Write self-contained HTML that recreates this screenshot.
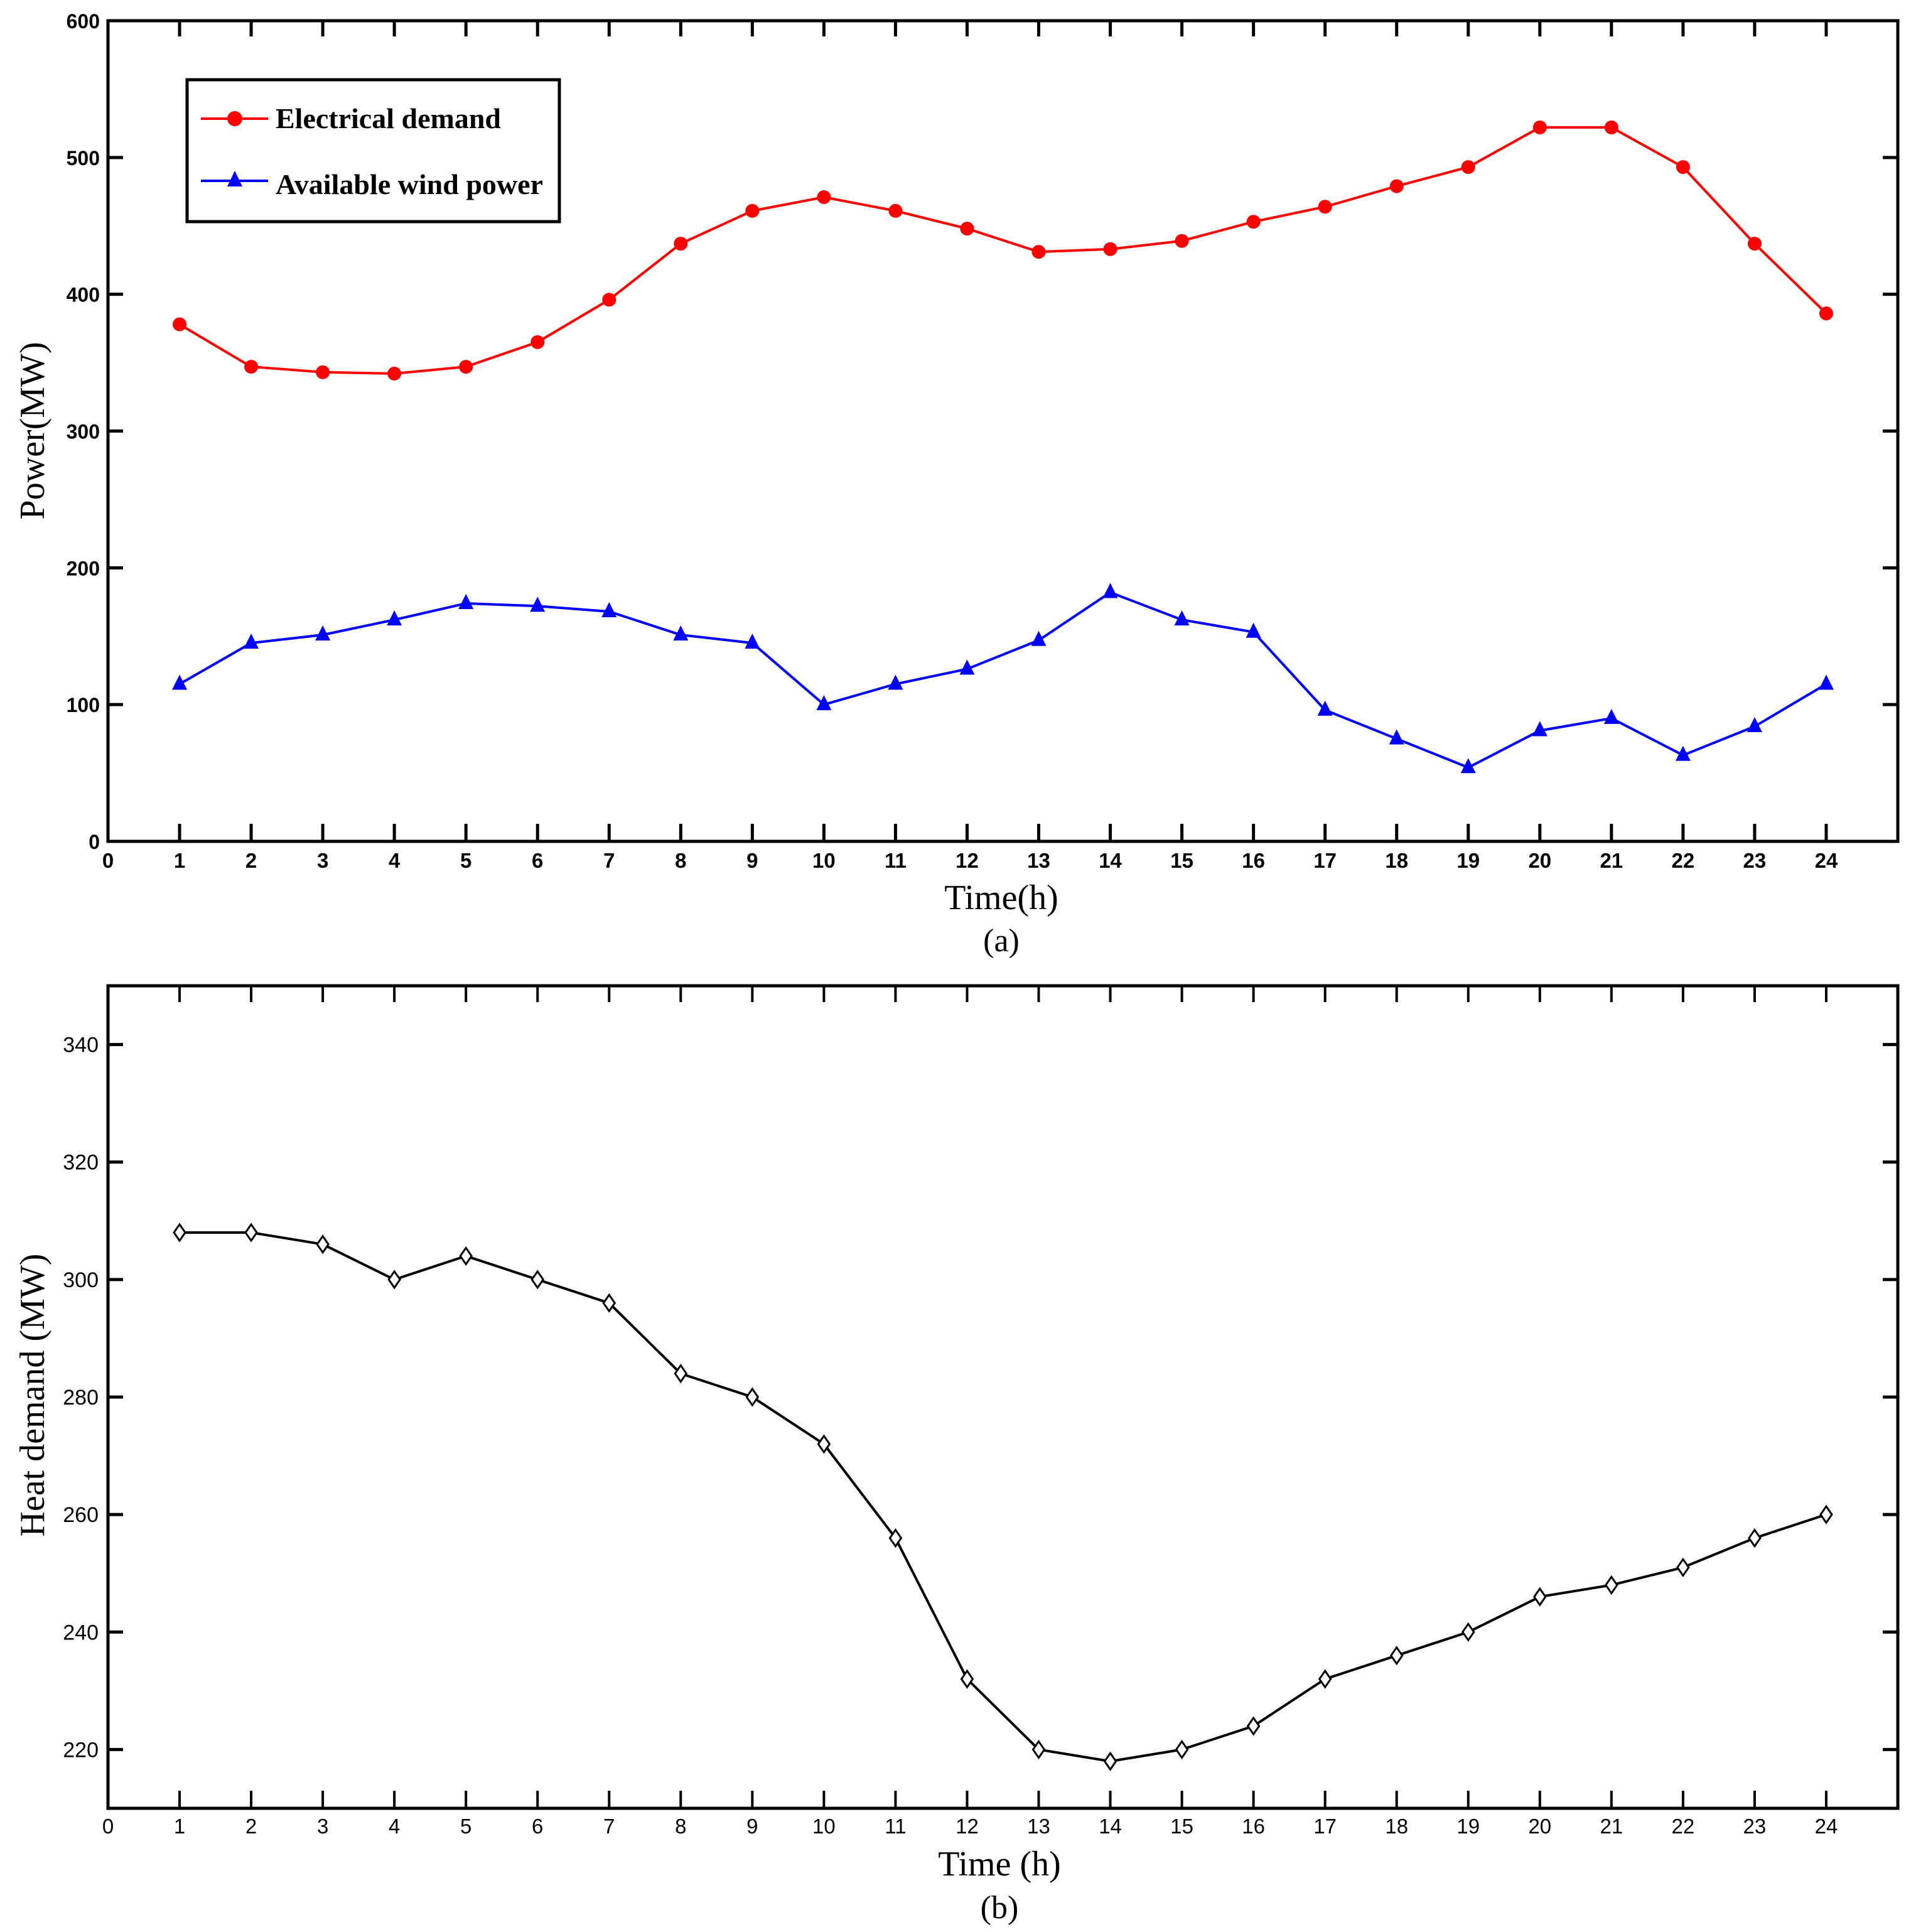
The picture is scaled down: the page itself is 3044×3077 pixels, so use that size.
<!DOCTYPE html>
<html><head><meta charset="utf-8"><style>
html,body{margin:0;padding:0;background:#fff;}
svg{display:block;}
</style></head><body>
<svg id="chart" xmlns="http://www.w3.org/2000/svg" width="3044" height="3077" viewBox="0 0 3044 3077">
<rect width="3044" height="3077" fill="#fff"/>
<g id="pa"></g>
<g id="pb"></g>
</svg>
<script>
const hours = [1,2,3,4,5,6,7,8,9,10,11,12,13,14,15,16,17,18,19,20,21,22,23,24];
const electricalDemand = [378,347,343,342,347,365,396,437,461,471,461,448,431,433,439,453,464,479,493,522,522,493,437,386];
const windPower = [115,145,151,162,174,172,168,151,145,100,115,126,147,182,162,153,96,75,54,81,90,63,84,115];
const heatDemand = [308,308,306,300,304,300,296,284,280,272,256,232,220,218,220,224,232,236,240,246,248,251,256,260];
const xTicks = [0,1,2,3,4,5,6,7,8,9,10,11,12,13,14,15,16,17,18,19,20,21,22,23,24];
const yTicksA = [0,100,200,300,400,500,600];
const yTicksB = [220,240,260,280,300,320,340];

const NS='http://www.w3.org/2000/svg';
function mk(parent,tag,attrs,text){const e=document.createElementNS(NS,tag);for(const k in attrs)e.setAttribute(k,attrs[k]);if(text!==undefined)e.textContent=text;parent.appendChild(e);return e;}

const L=172,R=3023;
const xs=h=>L+(R-L)*h/25;
function yA(v){return 1340-(1340-33)*v/600;}
function yB(v){return 2880-(2880-1570)*(v-210)/140;}
function pathD(vals,yf){return vals.map((v,i)=>(i?'L':'M')+xs(hours[i]).toFixed(1)+' '+yf(v).toFixed(1)).join(' ');}

// ---------- Panel A ----------
const pa=document.getElementById('pa');
let e;
e=mk(pa,'rect',{x:L,y:33,width:R-L,height:1307,fill:'none',stroke:'#000','stroke-width':5});


xTicks.forEach(t=>{
  const x=xs(t);
  if(t>0){
    e=mk(pa,'line',{x1:x,y1:1340,x2:x,y2:1312,stroke:'#000','stroke-width':5});
    
    
    mk(pa,'line',{x1:x,y1:33,x2:x,y2:58,stroke:'#000','stroke-width':5});
  }
  e=mk(pa,'text',{x:x,y:1382,'font-family':'Liberation Sans, sans-serif','font-weight':'bold','font-size':33,'text-anchor':'middle'},String(t));
  
  
});
yTicksA.forEach(t=>{
  const y=yA(t);
  if(t>0&&t<600){
    e=mk(pa,'line',{x1:L,y1:y,x2:L+24,y2:y,stroke:'#000','stroke-width':5});
    
    
    mk(pa,'line',{x1:R,y1:y,x2:R-24,y2:y,stroke:'#000','stroke-width':5});
  }
  e=mk(pa,'text',{x:159,y:y+12,'font-family':'Liberation Sans, sans-serif','font-weight':'bold','font-size':32,'text-anchor':'end'},String(t));
  
  
});
e=mk(pa,'path',{d:pathD(electricalDemand,yA),fill:'none',stroke:'#ff0000','stroke-width':4});


electricalDemand.forEach((v,i)=>{
  e=mk(pa,'circle',{cx:xs(hours[i]),cy:yA(v),r:11,fill:'#ff0000'});
  
  
});
e=mk(pa,'path',{d:pathD(windPower,yA),fill:'none',stroke:'#0000ff','stroke-width':4});


windPower.forEach((v,i)=>{
  const x=xs(hours[i]),y=yA(v);
  e=mk(pa,'polygon',{points:`${x},${y-15} ${x-12},${y+9} ${x+12},${y+9}`,fill:'#0000ff'});
  
  
});
// legend
const lg=mk(pa,'g',{});


mk(lg,'rect',{x:298,y:127,width:593,height:226,fill:'#fff',stroke:'#000','stroke-width':5});
e=mk(lg,'line',{x1:320,y1:189,x2:427,y2:189,stroke:'#ff0000','stroke-width':4});


mk(lg,'circle',{cx:374,cy:189,r:12,fill:'#ff0000'});
mk(lg,'text',{x:439,y:204,'font-family':'Liberation Serif, serif','font-weight':'bold','font-size':46},'Electrical demand');
e=mk(lg,'line',{x1:320,y1:288,x2:427,y2:288,stroke:'#0000ff','stroke-width':4});


mk(lg,'polygon',{points:'374,272 362,297 386,297',fill:'#0000ff'});
mk(lg,'text',{x:439,y:309,'font-family':'Liberation Serif, serif','font-weight':'bold','font-size':46},'Available wind power');
e=mk(pa,'text',{x:0,y:0,transform:'translate(70,686) rotate(-90)','font-family':'Liberation Serif, serif','font-size':56,'text-anchor':'middle'},'Power(MW)');


e=mk(pa,'text',{x:1595,y:1448,'font-family':'Liberation Serif, serif','font-size':56,'text-anchor':'middle'},'Time(h)');


e=mk(pa,'text',{x:1595,y:1515,'font-family':'Liberation Serif, serif','font-size':52,'text-anchor':'middle'},'(a)');



// ---------- Panel B ----------
const pb=document.getElementById('pb');
e=mk(pb,'rect',{x:L,y:1570,width:R-L,height:1310,fill:'none',stroke:'#000','stroke-width':5});


xTicks.forEach(t=>{
  const x=xs(t);
  if(t>0){
    e=mk(pb,'line',{x1:x,y1:2880,x2:x,y2:2852,stroke:'#000','stroke-width':4});
    
    
    mk(pb,'line',{x1:x,y1:1570,x2:x,y2:1596,stroke:'#000','stroke-width':4});
  }
  e=mk(pb,'text',{x:x,y:2920,'font-family':'Liberation Sans, sans-serif','font-size':33,'text-anchor':'middle'},String(t));
  
  
});
yTicksB.forEach(t=>{
  const y=yB(t);
  e=mk(pb,'line',{x1:L,y1:y,x2:L+24,y2:y,stroke:'#000','stroke-width':5});
  
  
  mk(pb,'line',{x1:R,y1:y,x2:R-24,y2:y,stroke:'#000','stroke-width':5});
  e=mk(pb,'text',{x:157,y:y+12,'font-family':'Liberation Sans, sans-serif','font-size':34,'text-anchor':'end'},String(t));
  
  
});
e=mk(pb,'path',{d:pathD(heatDemand,yB),fill:'none',stroke:'#000','stroke-width':4});


heatDemand.forEach((v,i)=>{
  const x=xs(hours[i]),y=yB(v);
  e=mk(pb,'polygon',{points:`${x},${y-13} ${x+9},${y} ${x},${y+13} ${x-9},${y}`,fill:'#fff',stroke:'#000','stroke-width':3});
  
  
});
e=mk(pb,'text',{x:0,y:0,transform:'translate(70,2222) rotate(-90)','font-family':'Liberation Serif, serif','font-size':56,'text-anchor':'middle'},'Heat demand (MW)');


e=mk(pb,'text',{x:1592,y:2987,'font-family':'Liberation Serif, serif','font-size':56,'text-anchor':'middle'},'Time (h)');


e=mk(pb,'text',{x:1592,y:3055,'font-family':'Liberation Serif, serif','font-size':52,'text-anchor':'middle'},'(b)');


</script>
</body></html>
